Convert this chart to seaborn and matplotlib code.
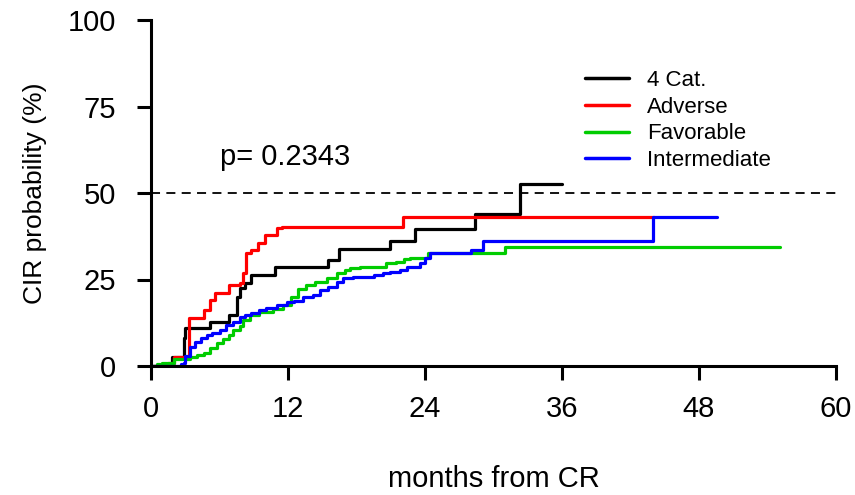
import matplotlib
matplotlib.use("Agg")
import matplotlib.pyplot as plt
import seaborn as sns
import pandas as pd

# ---- data (months from CR, CIR probability %) ----
groups = ["4 Cat.", "Adverse", "Favorable", "Intermediate"]
colors = ["#000000", "#ff0000", "#00cc00", "#0000ff"]

cat4_t = [0, 1.8, 2.9, 3.0, 5.2, 6.8, 7.5, 7.8, 8.2, 8.8, 10.9, 15.5, 16.5, 20.9, 23.1, 28.4, 32.3, 36.0]
cat4_y = [0, 2.7, 8.0, 11.0, 12.8, 14.7, 20.0, 22.5, 24.0, 26.3, 28.5, 30.6, 33.7, 36.2, 39.5, 43.8, 52.6, 52.6]

adv_t = [0, 1.5, 2.0, 3.3, 4.6, 5.2, 5.6, 6.8, 7.8, 8.1, 8.3, 8.8, 9.4, 10.0, 11.0, 11.5, 22.1, 44.1]
adv_y = [0, 1.0, 2.7, 13.9, 16.2, 19.0, 21.0, 23.4, 24.0, 27.0, 32.6, 33.5, 35.5, 37.9, 39.9, 40.3, 43.0, 43.0]

fav_t = [0, 0.5, 1.0, 2.0, 3.4, 4.0, 4.6, 5.2, 5.75, 6.3, 6.8, 7.2, 7.8, 8.1, 8.7, 9.5, 10.7, 11.6,
         12.3, 12.9, 13.6, 14.4, 15.4, 16.3, 17.0, 17.4, 18.3, 20.1, 20.6, 21.5, 22.2, 22.7, 24.3, 31.0, 55.1]
fav_y = [0, 0.5, 1.0, 1.9, 2.7, 3.2, 3.7, 5.1, 6.6, 7.7, 9.0, 10.4, 11.6, 13.3, 14.7, 15.7, 16.4, 17.6,
         19.8, 22.2, 23.4, 24.4, 25.3, 26.8, 27.7, 28.2, 28.5, 28.7, 29.7, 30.2, 30.8, 31.3, 32.6, 34.3, 34.3]

int_t = [0, 2.6, 2.9, 3.0, 3.4, 3.85, 4.4, 4.9, 5.3, 6.0, 6.6, 7.2, 7.8, 8.2, 8.8, 9.5, 10.1, 11.0, 11.9,
         12.5, 13.3, 14.2, 14.8, 15.5, 16.3, 16.8, 17.7, 19.5, 20.3, 20.9, 21.8, 22.4, 23.6, 24.0, 24.4,
         28.0, 29.1, 44.0, 49.6]
int_y = [0, 0.5, 1.0, 3.0, 5.6, 7.0, 8.0, 9.0, 9.6, 10.4, 11.8, 12.8, 14.2, 14.7, 15.4, 16.2, 16.7, 17.6, 18.4,
         18.9, 19.8, 20.5, 22.0, 22.9, 24.4, 25.3, 25.8, 26.3, 26.8, 27.3, 27.7, 28.5, 29.7, 31.2, 32.6,
         33.6, 36.2, 43.0, 43.0]

x_ticks = [0, 12, 24, 36, 48, 60]
y_ticks = [0, 25, 50, 75, 100]
p_text = "p= 0.2343"

frames = []
for g, t, y in zip(groups, [cat4_t, adv_t, fav_t, int_t], [cat4_y, adv_y, fav_y, int_y]):
    frames.append(pd.DataFrame({"months": t, "cir": y, "group": g}))
df = pd.concat(frames, ignore_index=True)

sns.set_theme(style="ticks")
plt.rcParams["font.family"] = ["Liberation Sans", "DejaVu Sans"]
plt.rcParams["text.color"] = "black"
plt.rcParams["axes.labelcolor"] = "black"
plt.rcParams["xtick.color"] = "black"
plt.rcParams["ytick.color"] = "black"
plt.rcParams["xtick.labelcolor"] = "black"
plt.rcParams["ytick.labelcolor"] = "black"

fig = plt.figure(figsize=(8.55, 4.95), dpi=100)
ax = fig.add_axes([151 / 855, 1 - 366 / 495, (836 - 151) / 855, (366 - 20) / 495])

sns.lineplot(data=df, x="months", y="cir", hue="group", hue_order=groups,
             palette=colors, estimator=None, drawstyle="steps-post",
             linewidth=2.3, ax=ax, legend=True)

ax.axhline(50, color="black", linestyle=(0, (5, 3.5)), linewidth=1.3, zorder=1)

ax.set_xlim(0, 60)
ax.set_ylim(0, 100)
ax.set_xticks(x_ticks)
ax.set_yticks(y_ticks)
ax.set_xlabel("months from CR", fontsize=21, labelpad=30)
ax.set_ylabel("CIR probability (%)", fontsize=19, labelpad=15)
ax.tick_params(axis="both", direction="out", length=10, width=2.2, labelsize=21,
               color="black", labelcolor="black")
ax.tick_params(axis="y", pad=15)
ax.tick_params(axis="x", pad=11)
for side in ["left", "bottom"]:
    ax.spines[side].set_linewidth(2.2)
    ax.spines[side].set_color("black")
sns.despine(ax=ax)

ax.text(6.0, 60.4, p_text, fontsize=21, ha="left", va="center", color="black")

leg = ax.legend(loc="upper left", bbox_to_anchor=(0.6336, 0.855), frameon=False,
                fontsize=16, handlelength=2.0, handletextpad=0.8, labelspacing=0.25,
                borderpad=0, borderaxespad=0)
for line in leg.get_lines():
    line.set_linewidth(2.5)
for txt in leg.get_texts():
    txt.set_color("black")

fig.savefig("out.png", dpi=100)
